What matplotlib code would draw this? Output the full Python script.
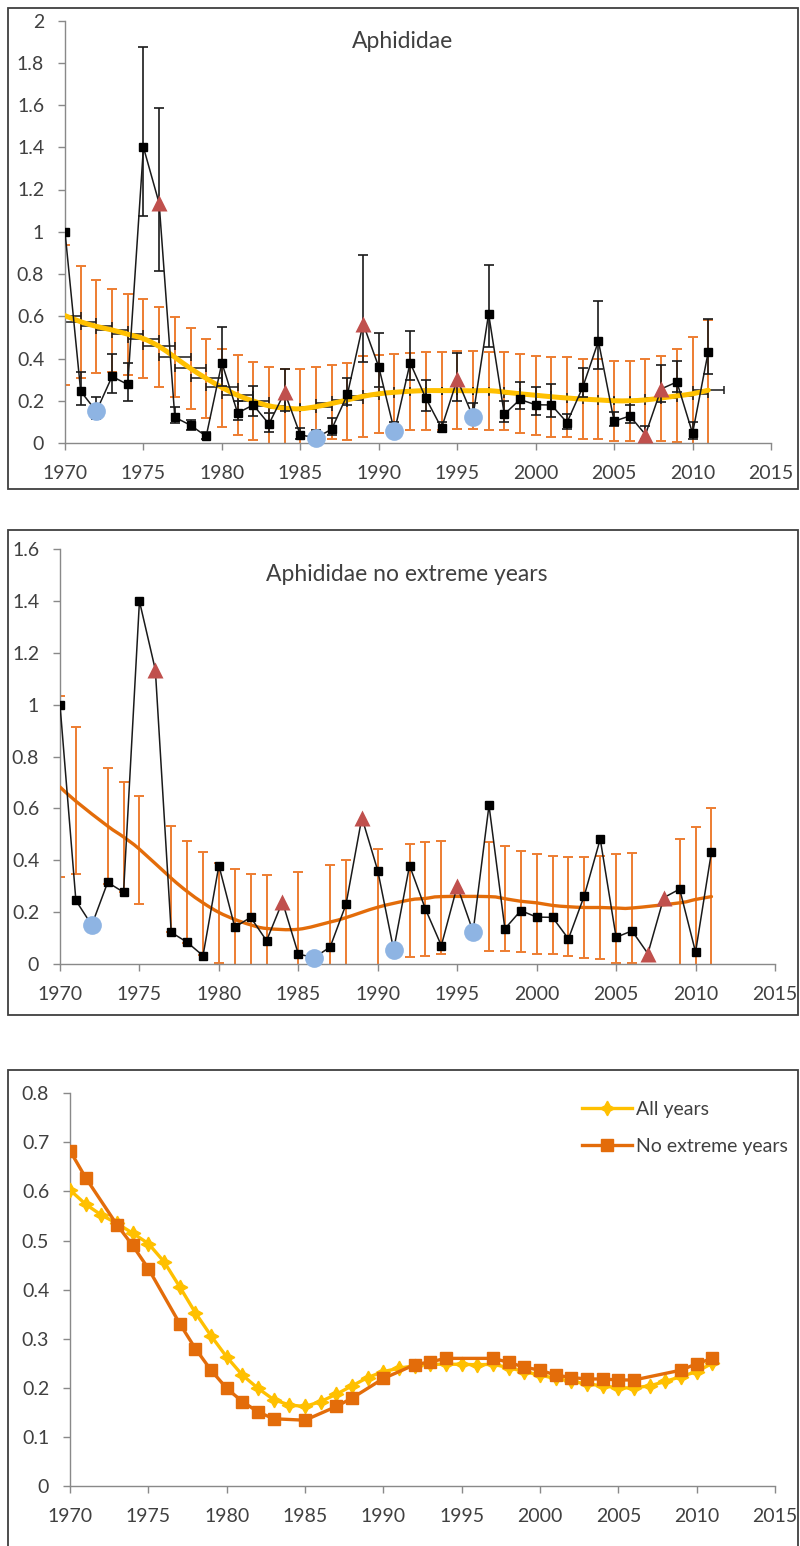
import numpy as np
import matplotlib
matplotlib.use("Agg")
import matplotlib.pyplot as plt
from matplotlib.path import Path
from matplotlib.patches import PathPatch, Rectangle

plt.rcParams['font.family'] = ['Lato', 'DejaVu Sans']

# ---------------- data ----------------
years = list(range(1970, 2012))
index_vals = [1.0, 0.245, 0.15, 0.315, 0.277, 1.40, 1.135, 0.122, 0.084, 0.032,
              0.38, 0.142, 0.18, 0.09, 0.24, 0.038, 0.025, 0.065, 0.23, 0.565,
              0.36, 0.055, 0.38, 0.212, 0.071, 0.301, 0.125, 0.612, 0.136, 0.206,
              0.181, 0.18, 0.097, 0.264, 0.482, 0.103, 0.128, 0.04, 0.256, 0.289,
              0.046, 0.432]
index_lo = [1.0, 0.18, 0.112, 0.235, 0.2, 1.075, 0.816, 0.093, 0.06, 0.02,
            0.27, 0.11, 0.13, 0.05, 0.15, 0.02, 0.01, 0.04, 0.18, 0.385,
            0.267, 0.03, 0.30, 0.15, 0.05, 0.20, 0.094, 0.456, 0.10, 0.16,
            0.134, 0.121, 0.066, 0.22, 0.35, 0.08, 0.094, 0.02, 0.192, 0.24,
            0.02, 0.326]
index_hi = [1.0, 0.335, 0.22, 0.42, 0.377, 1.873, 1.586, 0.17, 0.11, 0.05,
            0.55, 0.20, 0.27, 0.14, 0.35, 0.07, 0.06, 0.12, 0.31, 0.89,
            0.519, 0.10, 0.532, 0.30, 0.10, 0.424, 0.19, 0.841, 0.20, 0.29,
            0.263, 0.279, 0.137, 0.357, 0.672, 0.148, 0.181, 0.08, 0.37, 0.389,
            0.10, 0.589]
high_extreme_years = [1976, 1984, 1989, 1995, 2007, 2008]
low_extreme_years = [1972, 1986, 1991, 1996]

trend_all = [0.603, 0.574, 0.552, 0.535, 0.515, 0.494, 0.457, 0.406, 0.353, 0.306,
             0.263, 0.226, 0.199, 0.176, 0.165, 0.162, 0.172, 0.187, 0.204, 0.221,
             0.233, 0.240, 0.245, 0.248, 0.248, 0.248, 0.247, 0.248, 0.241, 0.233,
             0.226, 0.219, 0.213, 0.208, 0.204, 0.200, 0.200, 0.204, 0.213, 0.223,
             0.233, 0.250]
trend_all_hi = [0.937, 0.84, 0.772, 0.73, 0.707, 0.683, 0.644, 0.596, 0.543, 0.492,
                0.445, 0.417, 0.383, 0.36, 0.35, 0.35, 0.36, 0.369, 0.381, 0.413,
                0.418, 0.422, 0.428, 0.43, 0.43, 0.434, 0.436, 0.43, 0.43, 0.42,
                0.413, 0.405, 0.405, 0.397, 0.397, 0.39, 0.39, 0.397, 0.413, 0.443,
                0.502, 0.582]
trend_all_lo = [0.275, 0.31, 0.33, 0.335, 0.32, 0.306, 0.265, 0.22, 0.161, 0.117,
                0.075, 0.038, 0.014, -0.01, -0.02, -0.026, 0.016, 0.02, 0.013, 0.03,
                0.045, 0.06, 0.06, 0.062, 0.062, 0.065, 0.065, 0.062, 0.06, 0.045,
                0.036, 0.027, 0.027, 0.019, 0.019, 0.011, 0.011, 0.011, 0.011, 0.006,
                -0.036, -0.08]

noext_years = [1970, 1971, 1973, 1974, 1975, 1977, 1978, 1979, 1980, 1981, 1982,
               1983, 1985, 1987, 1988, 1990, 1992, 1993, 1994, 1997, 1998, 1999,
               2000, 2001, 2002, 2003, 2004, 2005, 2006, 2009, 2010, 2011]
trend_noext = [0.683, 0.628, 0.532, 0.49, 0.443, 0.331, 0.28, 0.236, 0.199, 0.172,
               0.151, 0.137, 0.134, 0.162, 0.179, 0.219, 0.247, 0.253, 0.26, 0.26,
               0.252, 0.242, 0.236, 0.226, 0.221, 0.218, 0.218, 0.216, 0.216, 0.236,
               0.249, 0.26]
trend_noext_hi = [1.034, 0.914, 0.755, 0.703, 0.649, 0.534, 0.476, 0.431, 0.391, 0.367,
                  0.348, 0.342, 0.354, 0.382, 0.40, 0.444, 0.463, 0.469, 0.475, 0.469,
                  0.456, 0.437, 0.424, 0.418, 0.411, 0.411, 0.418, 0.425, 0.43, 0.482,
                  0.529, 0.60]
trend_noext_lo = [0.334, 0.347, 0.31, 0.278, 0.231, 0.125, 0.08, 0.035, 0.005, -0.023,
                  -0.046, -0.068, -0.086, -0.058, -0.042, -0.006, 0.026, 0.031, 0.038, 0.051,
                  0.051, 0.045, 0.038, 0.038, 0.032, 0.025, 0.019, 0.005, 0.002, -0.01,
                  -0.031, -0.08]

titles = ["Aphididae", "Aphididae no extreme years"]
legend_labels = ["All years", "No extreme years"]

# ---------------- styles ----------------
C_BLACK = '#000000'
C_YELLOW = '#FFC000'
C_ORANGE = '#ED7D31'
C_ORANGE_D = '#E36C0A'
C_RED = '#C0504D'
C_BLUE = '#8EB4E3'
C_AXIS = '#898989'
C_TEXT = '#404040'
FS = 14

W, H = 800, 1546
fig = plt.figure(figsize=(W / 100, H / 100), dpi=100)


def ax_rect(x0, x1, ytop, ybot):
    return [x0 / W, (H - ybot) / H, (x1 - x0) / W, (ybot - ytop) / H]


def style_axis(ax, ymax, ystep):
    ax.set_xlim(1970, 2015)
    ax.set_ylim(0, ymax)
    ax.set_xticks(range(1970, 2016, 5))
    ax.set_yticks(np.round(np.arange(0, ymax + 1e-9, ystep), 3))
    ax.yaxis.set_major_formatter(matplotlib.ticker.FormatStrFormatter('%g'))
    for s in ['top', 'right']:
        ax.spines[s].set_visible(False)
    for s in ['left', 'bottom']:
        ax.spines[s].set_color(C_AXIS)
        ax.spines[s].set_linewidth(1.0)
    ax.tick_params(axis='both', colors=C_AXIS, labelcolor=C_TEXT,
                   labelsize=FS, length=5, width=1.0, direction='out')
    ax.tick_params(axis='x', pad=11)
    ax.tick_params(axis='y', pad=10)
    ax.patch.set_alpha(0)


def smooth_path(xs, ys):
    pts = np.column_stack([xs, ys]).astype(float)
    n = len(pts)
    verts = [pts[0]]
    codes = [Path.MOVETO]
    for i in range(n - 1):
        p0 = pts[i - 1] if i > 0 else pts[i]
        p1 = pts[i]
        p2 = pts[i + 1]
        p3 = pts[i + 2] if i + 2 < n else pts[i + 1]
        c1 = p1 + (p2 - p0) / 6.0
        c2 = p2 - (p3 - p1) / 6.0
        verts += [c1, c2, p2]
        codes += [Path.CURVE4] * 3
    return Path(verts, codes)


yrs = np.array(years)
vals = np.array(index_vals)
normal_mask = ~np.isin(yrs, high_extreme_years + low_extreme_years)
hi_mask = np.isin(yrs, high_extreme_years)
lo_mask = np.isin(yrs, low_extreme_years)

# frames
for (ytop, ybot) in [(7.5, 489), (530.5, 1015), (1069.5, 1560)]:
    fig.add_artist(Rectangle((7.5 / W, (H - ybot) / H), 790.5 / W, (ybot - ytop) / H,
                             transform=fig.transFigure, fill=False,
                             ec='#3F3F3F', lw=1.3, zorder=0))

# ---------------- Panel 1 ----------------
ax1 = fig.add_axes(ax_rect(65, 771, 20.5, 443))
style_axis(ax1, 2.0, 0.2)
ta = np.array(trend_all)
ax1.errorbar(yrs, ta, yerr=[ta - np.array(trend_all_lo), np.array(trend_all_hi) - ta],
             fmt='none', ecolor=C_ORANGE, elinewidth=1.4, capsize=3.8, capthick=1.4,
             zorder=1, clip_on=True)
ax1.errorbar(yrs, ta, xerr=1, fmt='none', ecolor='#1a1a1a', elinewidth=1.1,
             capsize=3.2, capthick=1.1, zorder=2, clip_on=True)
ax1.add_patch(PathPatch(smooth_path(yrs, ta), fill=False, ec=C_YELLOW, lw=3.6,
                        zorder=3, capstyle='round'))
ax1.errorbar(yrs, vals, yerr=[vals - np.array(index_lo), np.array(index_hi) - vals],
             fmt='none', ecolor='#1a1a1a', elinewidth=1.2, capsize=3.8, capthick=1.2,
             zorder=4)
ax1.plot(yrs, vals, color='#1a1a1a', lw=1.1, zorder=4)
ax1.plot(yrs[normal_mask], vals[normal_mask], 's', color=C_BLACK, ms=5.6, zorder=5)
ax1.plot(yrs[hi_mask], vals[hi_mask], '^', color=C_RED, ms=11.5, mec='none', zorder=6)
ax1.plot(yrs[lo_mask], vals[lo_mask], 'o', color=C_BLUE, ms=13.5, mec='none', zorder=6,
         clip_on=False)
ax1.text(0.478, 0.95, titles[0], transform=ax1.transAxes, ha='center', va='center',
         fontsize=16.5, color=C_TEXT)

# ---------------- Panel 2 ----------------
ax2 = fig.add_axes(ax_rect(60, 775, 549.3, 964))
style_axis(ax2, 1.6, 0.2)
ny = np.array(noext_years)
tn = np.array(trend_noext)
ax2.errorbar(ny, tn, yerr=[tn - np.array(trend_noext_lo), np.array(trend_noext_hi) - tn],
             fmt='none', ecolor=C_ORANGE, elinewidth=1.4, capsize=3.8, capthick=1.4,
             zorder=1)
ax2.add_patch(PathPatch(smooth_path(ny, tn), fill=False, ec=C_ORANGE_D, lw=2.4,
                        zorder=3, capstyle='round'))
ax2.plot(yrs, vals, color='#1a1a1a', lw=1.1, zorder=4)
ax2.plot(yrs[normal_mask], vals[normal_mask], 's', color=C_BLACK, ms=5.6, zorder=5)
ax2.plot(yrs[hi_mask], vals[hi_mask], '^', color=C_RED, ms=11.5, mec='none', zorder=6)
ax2.plot(yrs[lo_mask], vals[lo_mask], 'o', color=C_BLUE, ms=13.5, mec='none', zorder=6,
         clip_on=False)
ax2.text(0.485, 0.94, titles[1], transform=ax2.transAxes, ha='center', va='center',
         fontsize=16.5, color=C_TEXT)

# ---------------- Panel 3 ----------------
ax3 = fig.add_axes(ax_rect(70, 775, 1093.3, 1486))
style_axis(ax3, 0.8, 0.1)
ax3.plot(yrs, ta, color=C_YELLOW, lw=2.4, marker=(4, 1, 0), ms=10.5, mec=C_YELLOW,
         label=legend_labels[0], zorder=3)
ax3.plot(ny, tn, color=C_ORANGE_D, lw=2.4, marker='s', ms=9, mec=C_ORANGE_D,
         label=legend_labels[1], zorder=4)
leg = ax3.legend(loc='upper left', bbox_to_anchor=(0.715, 1.0), frameon=False,
                 fontsize=14, handlelength=2.6, handletextpad=0.2, labelspacing=1.0,
                 numpoints=1, borderaxespad=0)
for t in leg.get_texts():
    t.set_color(C_TEXT)

fig.savefig('out.png', dpi=100)
